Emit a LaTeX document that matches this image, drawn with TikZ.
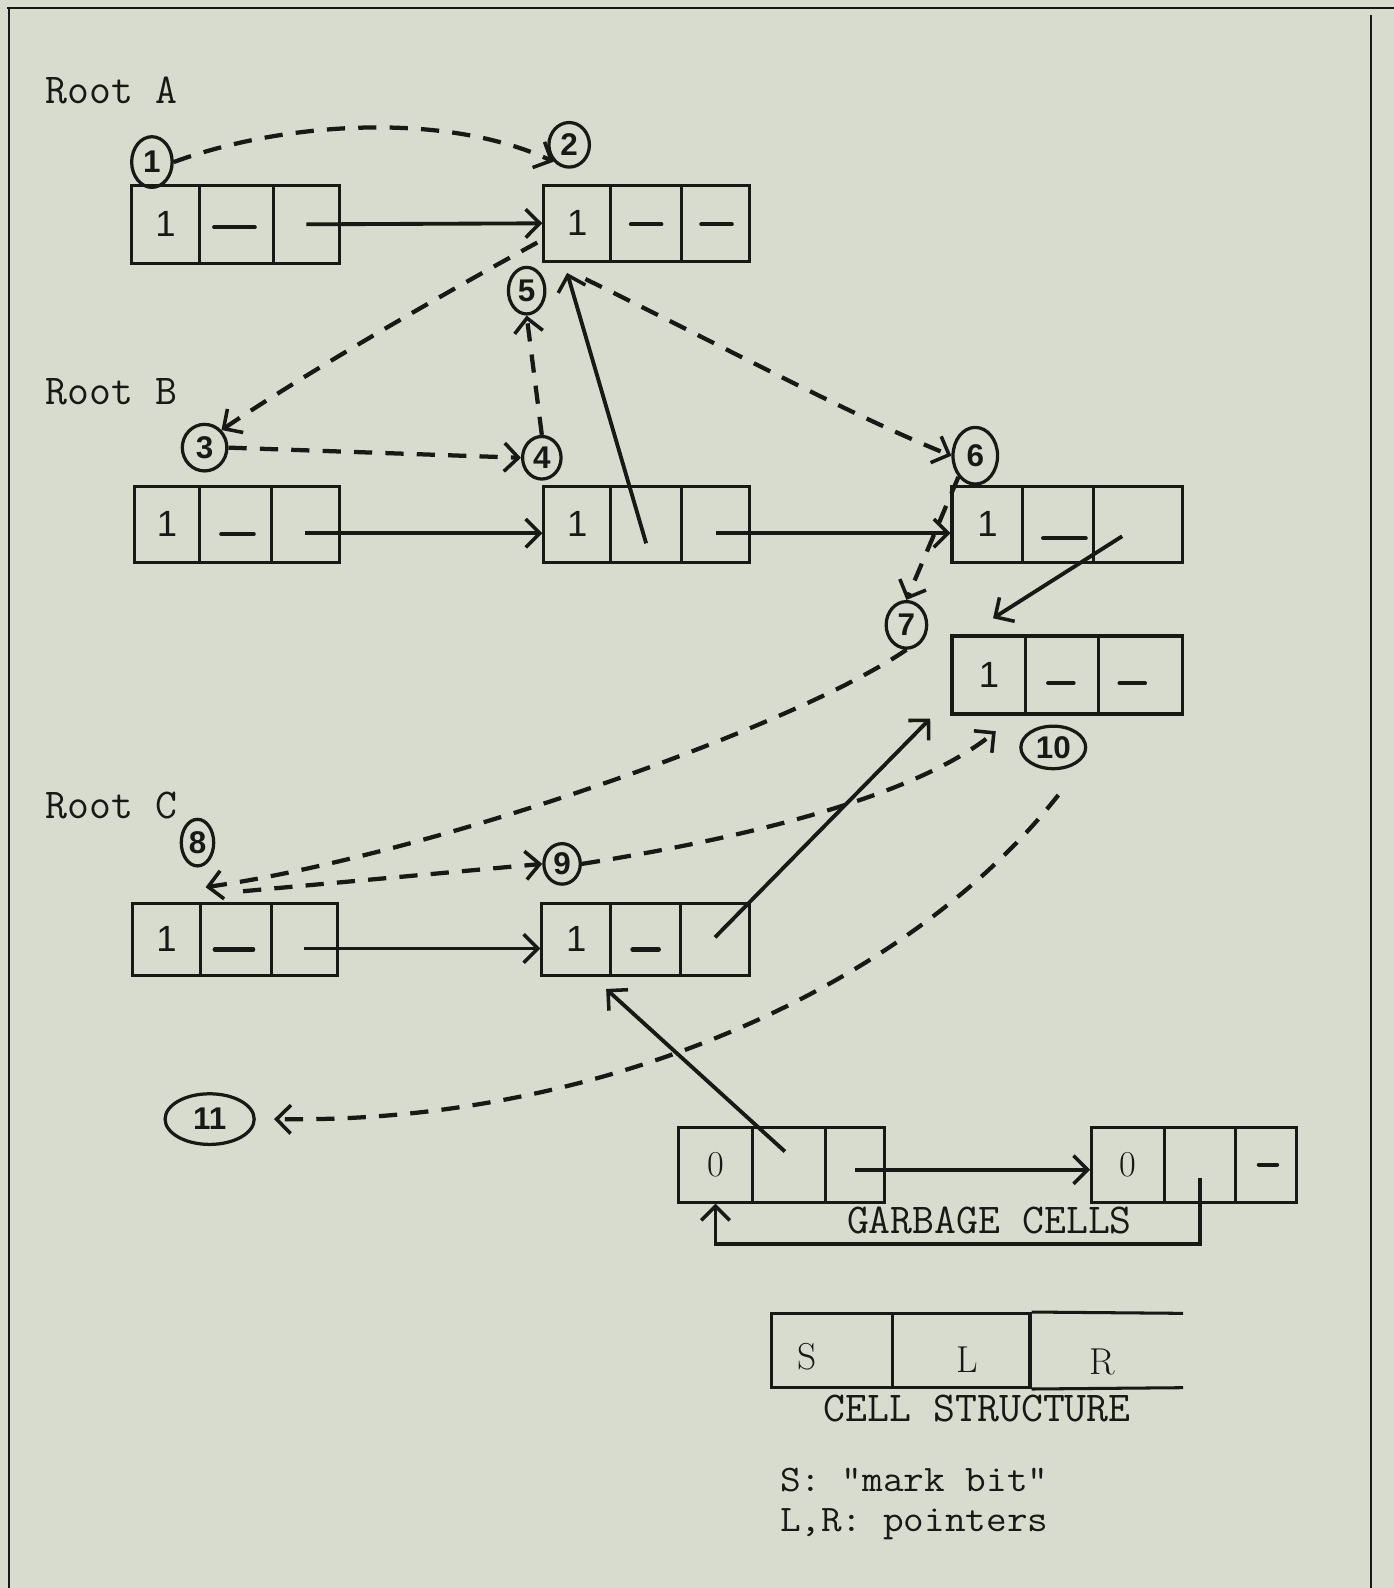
\documentclass[tikz,border=0pt]{standalone}
\usepackage{fontspec}
\newfontfamily\handfont{Liberation Sans}
\usetikzlibrary{arrows.meta,shapes.geometric,calc}
\definecolor{paper}{RGB}{216,220,206}
\definecolor{ink}{RGB}{24,24,22}
\newcommand{\threecell}[8]{%
  \node[cellbox, minimum width={(#3-#2)*1pt}, minimum height={(#7-#6)*1pt}] (#1s) at ({(#2+#3)/2},{(#6+#7)/2}) {#8};
  \node[cellbox, minimum width={(#4-#3)*1pt}, minimum height={(#7-#6)*1pt}] (#1l) at ({(#3+#4)/2},{(#6+#7)/2}) {};
  \node[cellbox, minimum width={(#5-#4)*1pt}, minimum height={(#7-#6)*1pt}] (#1r) at ({(#4+#5)/2},{(#6+#7)/2}) {};
}
\begin{document}
\begin{tikzpicture}[x=1pt,y=-1pt,
  cellbox/.style={draw=ink, line width=3pt, inner sep=0pt, font=\handfont\fontsize{36}{40}\selectfont, text=ink},
  circ/.style={draw=ink, ellipse, line width=3.2pt, inner sep=0pt, font=\handfont\bfseries\fontsize{31}{33}\selectfont, text=ink},
  ptr/.style={draw=ink, line width=3.8pt, -{Straight Barb[length=14pt,width=28pt,line width=3.5pt]}},
  dptr/.style={ptr, line width=4.2pt, dash pattern=on 18pt off 13pt},
  nil/.style={draw=ink, line width=4.2pt, line cap=round},
  tt/.style={font=\ttfamily\fontsize{42}{46}\selectfont, text=ink, inner sep=0pt},
  keytxt/.style={font=\ttfamily\fontsize{37}{40}\selectfont, text=ink, inner sep=0pt, xscale=1.07, transform shape},
  serifl/.style={font=\rmfamily\fontsize{37}{40}\selectfont, text=ink, inner sep=0pt},
  frame/.style={draw=ink, line width=2pt}
]
\fill[paper] (0,0) rectangle (1376,1568);
\useasboundingbox (0,0) rectangle (1376,1568);
\draw[frame] (7,8) -- (1376,8);
\draw[frame] (9,8) -- (9,1568);
\draw[frame] (1354,15) -- (1354,1568);

% labels
\node[tt, anchor=base west] (ra) at (45,102) {Root A};
\node[tt, anchor=base west] (rb) at (45,399) {Root B};
\node[tt, anchor=base west] (rc) at (45,808) {Root C};

% records
\threecell{a1}{130}{197}{270}{335}{183}{260}{1}
\threecell{a2}{537}{603}{673}{740}{183}{258}{1}
\threecell{b1}{133}{197}{268}{335}{480}{555}{1}
\threecell{b2}{537}{603}{673}{740}{480}{555}{1}
\threecell{b3}{940}{1010}{1080}{1168}{480}{555}{1}
\threecell{b4}{940}{1013}{1085}{1168}{628}{705}{1}
\threecell{c1}{131}{198}{268}{333}{892}{963}{1}
\threecell{c2}{535}{603}{672}{740}{892}{963}{1}
\threecell{g1}{670}{743}{815}{873}{1113}{1187}{\rmfamily\fontsize{36}{40}\selectfont 0}
\threecell{g2}{1078}{1150}{1220}{1280}{1113}{1187}{\rmfamily\fontsize{36}{40}\selectfont 0}

% nil marks
\draw[nil] ($(a1l.center)+(-22,3)$) -- ($(a1l.center)+(18,3)$);
\draw[nil] ($(a2l.center)+(-15,1)$) -- ($(a2l.center)+(15,1)$);
\draw[nil] ($(a2r.center)+(-14,1)$) -- ($(a2r.center)+(16,1)$);
\draw[nil] ($(b1l.center)+(-14,10)$) -- ($(b1l.center)+(18,10)$);
\draw[nil] ($(b3l.center)+(-15,14)$) -- ($(b3l.center)+(27,14)$);
\draw[nil] ($(b4l.center)+(-14,8)$) -- ($(b4l.center)+(11,8)$);
\draw[nil] ($(b4r.center)+(-21,8)$) -- ($(b4r.center)+(4,8)$);
\draw[nil] ($(c1l.center)+(-21,10)$) -- ($(c1l.center)+(17,10)$);
\draw[nil] ($(c2l.center)+(-13,10)$) -- ($(c2l.center)+(13,10)$);
\draw[nil] ($(g2r.center)+(-7,0)$) -- ($(g2r.center)+(11,0)$);

% circled numbers
\node[circ, minimum width=40pt, minimum height=50pt] (n1) at (150,160) {1};
\node[circ, minimum width=40pt, minimum height=44pt] (n2) at (562,143) {2};
\node[circ, minimum width=44pt, minimum height=46pt] (n3) at (202,442) {3};
\node[circ, minimum width=38pt, minimum height=42pt] (n4) at (535,452) {4};
\node[circ, minimum width=36pt, minimum height=46pt] (n5) at (520,287) {5};
\node[circ, minimum width=44pt, minimum height=56pt] (n6) at (963,450) {6};
\node[circ, minimum width=40pt, minimum height=46pt] (n7) at (895,617) {7};
\node[circ, minimum width=32pt, minimum height=46pt] (n8) at (195,832) {8};
\node[circ, minimum width=36pt, minimum height=40pt] (n9) at (555,853) {9};
\node[circ, minimum width=64pt, minimum height=42pt] (n10) at (1040,738) {10};
\node[circ, minimum width=88pt, minimum height=50pt] (n11) at (207,1105) {11};

% solid pointers
\draw[ptr] (a1r.center) -- (a2s.west);
\draw[ptr] ([yshift=-9pt]b1r.center) -- ([yshift=-9pt]b2s.west);
\draw[ptr] ([yshift=-9pt]b2r.center) -- ([yshift=-9pt]b3s.west);
\draw[ptr] ([yshift=-19pt]b2l.center) -- ([shift={(-10pt,-10pt)}]a2s.south);
\draw[ptr] ([shift={(-16pt,-12pt)}]b3r.center) -- ([shift={(4pt,16pt)}]b4s.north);
\draw[ptr] ([yshift=-9pt]c1r.center) -- ([yshift=-9pt]c2s.west);
\draw[ptr] ([yshift=2pt]c2r.center) -- ([shift={(-20pt,-3pt)}]b4s.south west);
\draw[ptr] ([shift={(-4pt,13pt)}]g1l.center) -- ([shift={(-6pt,-12pt)}]c2s.south east);
\draw[ptr] ([yshift=-5pt]g1r.center) -- ([yshift=-5pt]g2s.west);
\draw[ptr] ([yshift=-13pt]g2l.center) |- ([yshift=-40pt]g1s.south) -- (g1s.south);

% dashed traversal
\draw[dptr] (n1.east) .. controls (280,120) and (440,110) .. (n2.south west);
\draw[dptr] ([shift={(-5pt,20pt)}]a2s.south west) .. controls (420,300) and (300,370) .. (n3.north east);
\draw[dptr] (n3.east) -- (n4.west);
\draw[dptr] (n4.north) -- (n5.south);
\draw[dptr] ([shift={(8pt,-16pt)}]a2s.south) .. controls (720,345) and (840,410) .. (n6.west);
\draw[dptr] (n6.south west) -- (n7.north);
\draw[dptr] (n7.south) .. controls (780,720) and (420,845) .. ([shift={(8pt,-44pt)}]n8.center);
\draw[dptr] ([shift={(45pt,-48pt)}]n8.center) -- (n9.west);
\draw[dptr] (n9.east) .. controls (720,830) and (900,790) .. ([xshift=-33pt]n10.north west);
\draw[dptr] ([shift={(5pt,-47pt)}]n10.center) .. controls (900,970) and (600,1110) .. ([xshift=18pt]n11.east);

% garbage label
\node[tt, anchor=base] (gc) at (977,1218) {GARBAGE CELLS};

% cell structure legend
\node[cellbox, minimum width=119pt, minimum height=73pt] (css) at (821.5,1333.5) {};
\node[cellbox, minimum width=136pt, minimum height=73pt] (csl) at (949,1333.5) {};
\node[inner sep=0pt, minimum width=151pt, minimum height=73pt] (csr) at (1092.5,1333.5) {};
\draw[draw=ink, line width=3pt] (csl.north east) -- (csr.north east);
\draw[draw=ink, line width=3pt] (csl.south east) -- (csr.south east);
\node[serifl] (ls) at (797,1340) {S};
\node[serifl] (ll) at (955,1343) {L};
\node[serifl] (lr) at (1088,1345) {R};
\node[tt, anchor=base] (cst) at (965,1404) {CELL STRUCTURE};
\node[keytxt, anchor=base west] (k1) at (770,1473) {S: "mark bit"};
\node[keytxt, anchor=base west] (k2) at (770,1512) {L,R: pointers};
\end{tikzpicture}
\end{document}
